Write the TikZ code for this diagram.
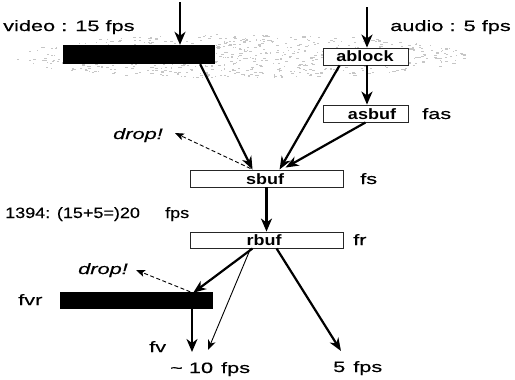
\documentclass[tikz,border=0pt]{standalone}
\usepackage{fontspec}
\setmainfont{Liberation Sans}
\newfontfamily\lab[FakeStretch=1.45,FakeBold=0.3]{Liberation Sans}
\newfontfamily\labb[FakeStretch=1.2]{Liberation Sans}
\newfontfamily\labn[FakeStretch=1.2,FakeBold=0.3]{Liberation Sans}
\usetikzlibrary{arrows.meta,calc}
\begin{document}
\begin{tikzpicture}[x=1pt,y=-1pt,
  txt/.style={inner sep=0pt,font=\lab\fontsize{15}{17}\selectfont},
  txtn/.style={inner sep=0pt,font=\labn\fontsize{15}{17}\selectfont},
  boxlab/.style={inner sep=0pt,font=\labb\bfseries\fontsize{15}{17}\selectfont},
  bufbox/.style={draw=black!85,line width=0.9pt,fill=white,inner sep=0pt},
  blackbar/.style={fill=black,draw=none,inner sep=0pt},
  thickarrow/.style={line width=2.6pt,-{Stealth[length=13pt,width=11pt,inset=4pt]}},
  medarrow/.style={line width=2.2pt,-{Stealth[length=13pt,width=10pt,inset=4pt]}},
  thinarrow/.style={line width=0.9pt,-{Stealth[length=10pt,width=8pt,inset=3pt]}},
  droparrow/.style={line width=0.9pt,dash pattern=on 4pt off 2.5pt,-{Stealth[length=9pt,width=7pt,inset=2pt]}}
]
\useasboundingbox (0,0) rectangle (515,380);
\fill[white] (0,0) rectangle (515,380);
% speckled noise band
\pgfmathsetseed{11}
\foreach \i in {1,...,700}{
  \pgfmathsetmacro\ang{rnd*360}
  \pgfmathsetmacro\rad{sqrt(rnd)}
  \pgfmathsetmacro\px{240+225*\rad*cos(\ang)}
  \pgfmathsetmacro\py{56+22*\rad*sin(\ang)}
  \pgfmathsetmacro\ww{1+2.5*rnd}
  \fill[gray!45] (\px,\py) rectangle ++(\ww,1.1);
}
% boxes and bars
\node[blackbar,minimum width=152pt,minimum height=19pt] (vbar) at (139,54.5) {};
\node[bufbox,minimum width=85pt,minimum height=17pt] (ablock) at (365.5,56.5) {};
\node[bufbox,minimum width=85pt,minimum height=17pt] (asbuf) at (365.5,113.5) {};
\node[bufbox,minimum width=153pt,minimum height=17pt] (sbuf) at (266.5,178.5) {};
\node[bufbox,minimum width=153pt,minimum height=16pt] (rbuf) at (266.5,240) {};
\node[blackbar,minimum width=153pt,minimum height=17pt] (fvr) at (136.5,300.5) {};
% labels
\node[txt,anchor=base west] (vtext) at (3,31) {video : 15 fps};
\node[txt,anchor=base east] (atext) at (511,31) {audio : 5 fps};
\node[boxlab,anchor=base] (ablocklab) at (365,61) {ablock};
\node[boxlab,anchor=base] (asbuflab) at (372,119) {asbuf};
\node[txt,anchor=base west] (fas) at (422,119) {fas};
\node[boxlab,anchor=base] (sbuflab) at (265,184) {sbuf};
\node[txt,anchor=base west] (fs) at (360,184) {fs};
\node[txtn,anchor=base west] (rate) at (5,218) {1394: (15+5=)20};
\node[txtn,anchor=base west] (ratefps) at (165,218) {fps};
\node[boxlab,anchor=base] (rbuflab) at (264,245) {rbuf};
\node[txt,anchor=base west] (fr) at (353,245) {fr};
\node[txt,anchor=base east,font=\lab\itshape\fontsize{15}{17}\selectfont] (drop1) at (163,139) {drop!};
\node[txt,anchor=base east,font=\lab\itshape\fontsize{15}{17}\selectfont] (drop2) at (128,274) {drop!};
\node[txt,anchor=base west] (fvrlab) at (18,305) {fvr};
\node[txt,anchor=base west] (fvlab) at (149,352) {fv};
\node[txt,anchor=base west] (tenfps) at (170,373) {\textasciitilde{} 10\hspace{8pt}fps};
\node[txt,anchor=base west] (fivefps) at (333,372) {5\hspace{8pt}fps};
% coordinates for free ends
\coordinate (vin) at (180,2);
\coordinate (ain) at (367,7);
\coordinate (d1tip) at (175,133);
\coordinate (d2tip) at (136,270);
\coordinate (tenA) at (192,352);
\coordinate (tenB) at (208,350);
\coordinate (fiveA) at (341,351);
% connectors
\draw[thickarrow] (vin) -- (vin |- vbar.north);
\draw[thickarrow] (ain) -- (ain |- ablock.north);
\draw[thickarrow] (ain |- ablock.south) -- (ain |- asbuf.north);
\draw[medarrow] ($(vbar.south east)+(-15,0)$) -- ($(sbuf.north west)+(63,0)$);
\draw[medarrow] ($(ablock.south west)+(17,0)$) -- ($(sbuf.north west)+(90,0)$);
\draw[medarrow] ($(asbuf.south)+(0,0)$) -- ($(sbuf.north west)+(96,-2)$);
\draw[droparrow] ($(sbuf.north west)+(61,-1)$) -- (d1tip);
\draw[thickarrow,line width=3pt] (sbuf.south) -- (rbuf.north);
\draw[medarrow] ($(rbuf.south west)+(63,0)$) -- ($(fvr.north east)+(-20,1)$);
\draw[thinarrow] ($(rbuf.south west)+(61,0)$) -- (tenB);
\draw[medarrow] ($(rbuf.south west)+(87,0)$) -- (fiveA);
\draw[droparrow] ($(fvr.north east)+(-23,0)$) -- (d2tip);
\draw[thickarrow] (tenA |- fvr.south) -- (tenA);
\end{tikzpicture}
\end{document}
